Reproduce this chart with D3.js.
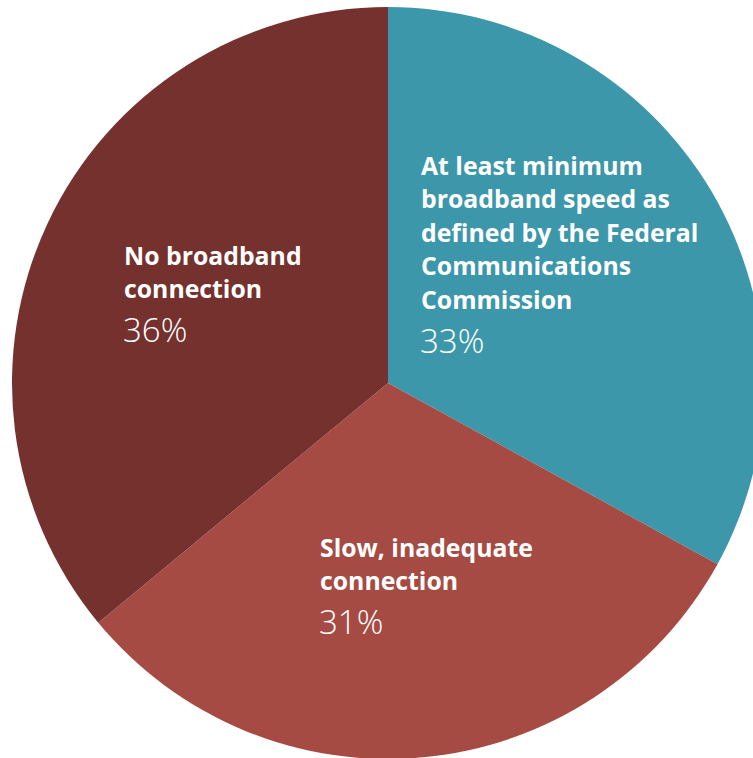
<!DOCTYPE html>
<html>
<head>
<meta charset="utf-8">
<script src="https://cdn.jsdelivr.net/npm/d3@7"></script>
<style>
  html, body { margin: 0; padding: 0; background: #ffffff; }
  svg { display: block; }
  .name { font-family: "Open Sans", "Noto Sans", sans-serif; font-weight: 700; fill: #ffffff; }
  .pct { font-family: "Open Sans", "Noto Sans", sans-serif; font-weight: 300; fill: #ffffff; }
</style>
</head>
<body>
<svg id="chart" width="753" height="758"></svg>
<script>
// Share of households by broadband connection quality
const categories = [
  "At least minimum broadband speed as defined by the Federal Communications Commission",
  "Slow, inadequate connection",
  "No broadband connection"
];
const labelLines = [
  ["At least minimum", "broadband speed as", "defined by the Federal", "Communications", "Commission"],
  ["Slow, inadequate", "connection"],
  ["No broadband", "connection"]
];
const values = [33, 31, 36];
const colors = ["#3c97ab", "#a64b44", "#74312e"];

const width = 753, height = 758;
const cx = 388, cy = 383, radius = 376;

const svg = d3.select("#chart");
const g = svg.append("g").attr("transform", `translate(${cx},${cy})`);

const pie = d3.pie().sort(null).value(d => d.value);
const arc = d3.arc().innerRadius(0).outerRadius(radius);

const data = categories.map((c, i) => ({ name: c, value: values[i], lines: labelLines[i], color: colors[i] }));
const arcs = pie(data);

g.selectAll("path.slice")
  .data(arcs)
  .join("path")
  .attr("class", "slice")
  .attr("d", arc)
  .attr("fill", d => d.data.color);

// label anchor (left x, first baseline) per slice, relative to centre
const labelPos = [
  { x: 421 - cx, y: 175 - cy },
  { x: 320 - cx, y: 557 - cy },
  { x: 124 - cx, y: 265 - cy }
];
const lineH = 33.4;

arcs.forEach((a, i) => {
  const p = labelPos[i];
  const t = g.append("g").attr("transform", `translate(${p.x},${p.y})`);
  a.data.lines.forEach((ln, j) => {
    t.append("text").attr("class", "name")
      .attr("x", 0).attr("y", j * lineH)
      .attr("font-size", 24.8)
      .text(ln);
  });
  t.append("text").attr("class", "pct")
    .attr("x", -1).attr("y", (a.data.lines.length - 1) * lineH + 44)
    .attr("font-size", 33)
    .text(a.data.value + "%");
});
</script>
</body>
</html>
